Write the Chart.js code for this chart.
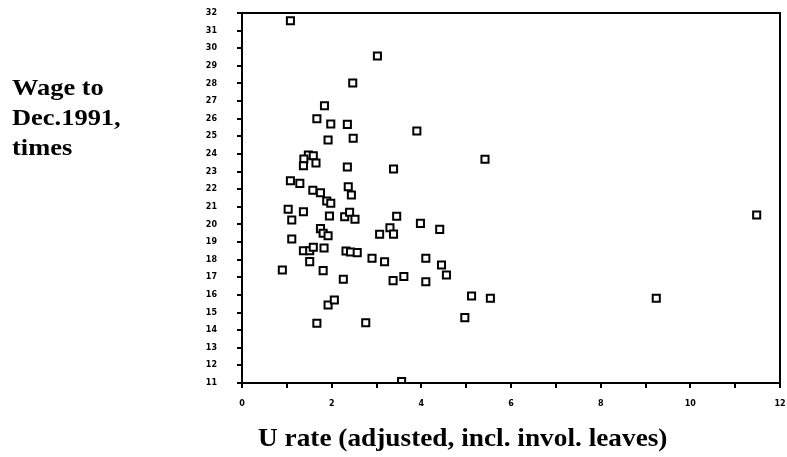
<!DOCTYPE html>
<html>
<head>
<meta charset="utf-8">
<script src="https://cdn.jsdelivr.net/npm/chart.js@4.4.0/dist/chart.umd.min.js"></script>
<style>
  body { margin: 0; background: #fff; }
  #wrap { position: relative; width: 787px; height: 457px; }
  .lbl { position: absolute; color: #000; font-family: "Liberation Serif", serif; font-weight: bold;
         transform-origin: left top; white-space: nowrap; }
  #ytitle { left: 12px; top: 73px; font-size: 23px; line-height: 30px; transform: scaleX(1.15); }
  #xtitle { left: 258px; top: 423px; font-size: 26px; line-height: 30px; transform: scaleX(1.05); }
</style>
</head>
<body>
<div id="wrap">
  <canvas id="scatterChart" width="787" height="457"></canvas>
  <div id="ytitle" class="lbl">Wage to<br>Dec.1991,<br>times</div>
  <div id="xtitle" class="lbl">U rate (adjusted, incl. invol. leaves)</div>
</div>
<script>
// unemployment rate (x) and wage (y)
var uRate = [1.08, 3.02, 2.47, 1.84, 1.67, 1.98, 2.35, 1.92, 2.48, 3.90,
    3.38, 2.35, 5.42, 1.48, 1.59, 1.38, 1.37, 1.65, 1.08, 1.29,
    1.58, 1.75, 2.37, 2.44, 1.89, 1.98, 1.03, 1.37, 1.11, 1.95,
    2.29, 2.40, 2.52, 3.45, 1.75, 1.81, 1.92, 3.07, 3.30, 3.38,
    1.11, 1.37, 1.51, 1.59, 1.83, 2.32, 2.42, 2.57, 2.90, 3.18,
    1.51, 0.90, 1.81, 2.26, 3.37, 1.92, 2.06, 1.67, 2.76, 3.98,
    4.41, 4.10, 4.45, 4.56, 3.61, 4.10, 5.12, 5.54, 4.97, 3.56,
    9.24, 11.48];
var wage = [31.56, 29.56, 28.03, 26.74, 26.0, 25.7, 25.68, 24.79, 24.89, 25.30,
    23.15, 23.26, 23.70, 23.94, 23.9, 23.71, 23.33, 23.49, 22.48, 22.33,
    21.94, 21.8, 22.14, 21.67, 21.33, 21.2, 20.86, 20.72, 20.25, 20.48,
    20.44, 20.69, 20.29, 20.46, 19.76, 19.50, 19.36, 19.44, 19.81, 19.45,
    19.17, 18.51, 18.51, 18.70, 18.66, 18.49, 18.44, 18.40, 18.08, 17.88,
    17.89, 17.41, 17.38, 16.89, 16.81, 15.43, 15.71, 14.39, 14.42, 20.06,
    19.72, 18.08, 17.70, 17.13, 17.04, 16.75, 15.94, 15.81, 14.71, 11.08,
    15.81, 20.54];

var points = uRate.map(function (u, i) { return { x: u, y: wage[i] }; });

var framePlugin = {
    id: 'frame',
    afterDraw: function (chart) {
        var a = chart.chartArea, c = chart.ctx;
        c.save();
        c.strokeStyle = '#000';
        c.lineWidth = 2;
        c.strokeRect(a.left, a.top, a.right - a.left, a.bottom - a.top);
        c.restore();
    }
};

var tickFont = { family: '"DejaVu Sans", sans-serif', size: 8, weight: 'bold' };

var ctx = document.getElementById('scatterChart').getContext('2d');
var scatterChart = new Chart(ctx, {
    type: 'scatter',
    data: {
        datasets: [{
            data: points,
            pointStyle: 'rect',
            pointRadius: 5,
            pointHoverRadius: 5,
            borderColor: '#000',
            backgroundColor: '#fff',
            borderWidth: 2
        }]
    },
    plugins: [framePlugin],
    options: {
        responsive: false,
        animation: false,
        layout: { padding: { top: 13, right: 6, left: 0, bottom: 0 } },
        plugins: { legend: { display: false }, tooltip: { enabled: false } },
        scales: {
            x: {
                type: 'linear',
                min: 0,
                max: 12,
                afterFit: function (s) {
                    s.height = 74;
                    s.paddingLeft = 0;
                    s.paddingRight = 0;
                },
                ticks: {
                    stepSize: 1,
                    color: '#000',
                    font: tickFont,
                    padding: 11,
                    maxRotation: 0,
                    autoSkip: false,
                    callback: function (v) { return v % 2 === 0 ? String(v) : ''; }
                },
                grid: { drawOnChartArea: false, color: '#000', lineWidth: 2, tickLength: 5 },
                border: { color: '#000', width: 2 }
            },
            y: {
                type: 'linear',
                min: 11,
                max: 32,
                afterFit: function (s) {
                    s.width = 242;
                    s.paddingTop = 0;
                    s.paddingBottom = 0;
                },
                ticks: {
                    stepSize: 1,
                    color: '#000',
                    font: tickFont,
                    padding: 20,
                    autoSkip: false
                },
                grid: { drawOnChartArea: false, color: '#000', lineWidth: 2, tickLength: 5 },
                border: { color: '#000', width: 2 }
            }
        }
    }
});
</script>
</body>
</html>
